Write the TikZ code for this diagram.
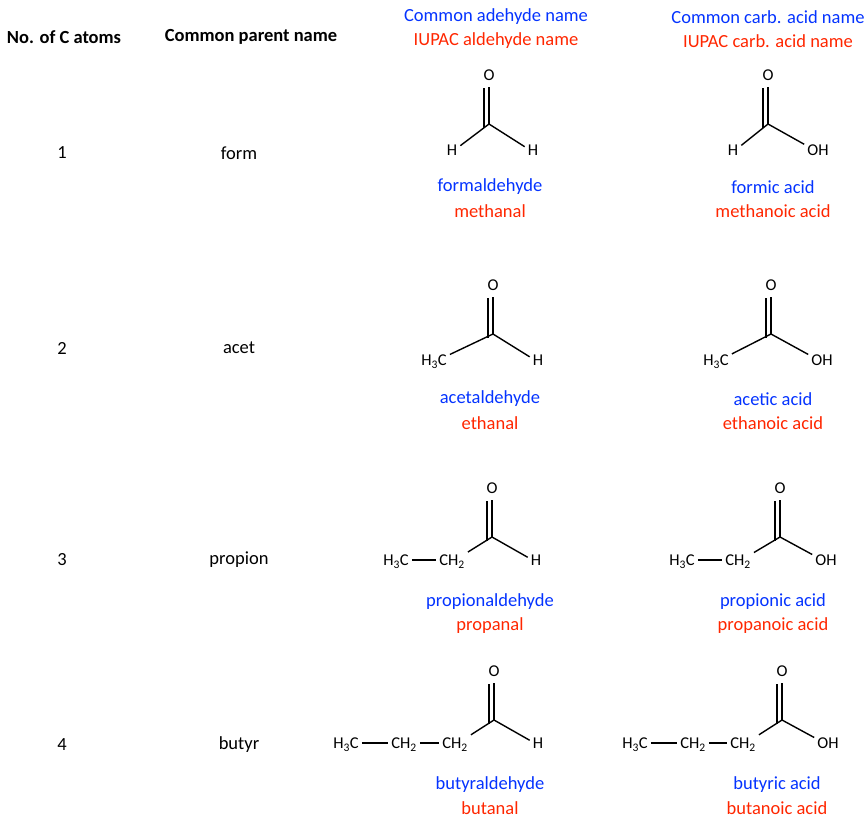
\documentclass[tikz,border=0pt]{standalone}
\usepackage{fontspec}
\setmainfont{Carlito}
\begin{document}
\begin{tikzpicture}[x=1pt,y=-1pt,
  hd/.style={font=\fontsize{18.5}{20}\selectfont\bfseries},
  txt/.style={font=\fontsize{18.5}{20}\selectfont},
  bl/.style={font=\fontsize{18.5}{20}\selectfont,text=cblue},
  rd/.style={font=\fontsize{18.5}{20}\selectfont,text=cred},
  atm/.style={font=\fontsize{16.5}{18}\selectfont,inner sep=3pt,text height=12pt,text depth=5pt},
  bd/.style={line width=1.4pt},
]
\definecolor{cblue}{RGB}{4,51,255}
\definecolor{cred}{RGB}{255,38,0}
\path[use as bounding box] (0,0) rectangle (868,824);
% headers
\node[hd] (h1) at (64,37) {No. of C atoms};
\node[hd] (h2) at (251,37) {Common parent name};
\node[bl] (h3a) at (496,17) {Common adehyde name};
\node[rd] (h3b) at (496,41) {IUPAC aldehyde name};
\node[bl] (h4a) at (768,17) {Common carb. acid name};
\node[rd] (h4b) at (768,41) {IUPAC carb. acid name};
% left columns
\foreach \n/\p/\y in {1/form/153,2/acet/348,3/propion/560,4/butyr/745}{
  \node[txt] (n\n) at (62,\y) {\n};
  \node[txt] (p\n) at (239,\y) {\p};
}
% names
\node[bl] (a1a) at (490,187) {formaldehyde};
\node[rd] (a1b) at (490,211) {methanal};
\node[bl] (c1a) at (773,187) {formic acid};
\node[rd] (c1b) at (773,211) {methanoic acid};
\node[bl] (a2a) at (490,399) {acetaldehyde};
\node[rd] (a2b) at (490,423) {ethanal};
\node[bl] (c2a) at (773,399) {acetic acid};
\node[rd] (c2b) at (773,423) {ethanoic acid};
\node[bl] (a3a) at (490,602) {propionaldehyde};
\node[rd] (a3b) at (490,626) {propanal};
\node[bl] (c3a) at (773,602) {propionic acid};
\node[rd] (c3b) at (773,626) {propanoic acid};
\node[bl] (a4a) at (490,785) {butyraldehyde};
\node[rd] (a4b) at (490,808) {butanal};
\node[bl] (c4a) at (777,785) {butyric acid};
\node[rd] (c4b) at (777,808) {butanoic acid};
% carbonyl macro: name, x, y(vertex)
\newcommand\carbo[3]{%
  \coordinate (#1C) at (#2,#3);
  \node[atm,inner sep=1pt] (#1O) at (#2,#3-47) {O};
  \draw[bd] (#1C) -- (#1O);
  \draw[bd] ([xshift=-5pt,yshift=-4pt]#1C) -- ([xshift=-5pt,yshift=-1pt]#1O.south);
}
% row 1
\carbo{r1a}{489}{124}
\node[atm] (r1aL) at (452,152) {H};
\node[atm] (r1aR) at (533,152) {H};
\draw[bd] (r1aC) -- (r1aL); \draw[bd] (r1aC) -- (r1aR);
\carbo{r1c}{768}{124}
\node[atm] (r1cL) at (733,152) {H};
\node[atm] (r1cR) at (818,152) {OH};
\draw[bd] (r1cC) -- (r1cL); \draw[bd] (r1cC) -- (r1cR);
% row 2
\carbo{r2a}{493}{334}
\node[atm] (r2aL) at (434,362) {H\textsubscript{3}C};
\node[atm] (r2aR) at (538,362) {H};
\draw[bd] (r2aC) -- (r2aL); \draw[bd] (r2aC) -- (r2aR);
\carbo{r2c}{771}{334}
\node[atm] (r2cL) at (716,362) {H\textsubscript{3}C};
\node[atm] (r2cR) at (822,362) {OH};
\draw[bd] (r2cC) -- (r2cL); \draw[bd] (r2cC) -- (r2cR);
% row 3
\carbo{r3a}{492}{537}
\node[atm] (r3aM) at (396,562) {H\textsubscript{3}C};
\node[atm] (r3aL) at (452,562) {CH\textsubscript{2}};
\node[atm] (r3aR) at (536,562) {H};
\draw[bd] ([yshift=2pt]r3aM.east) -- ([yshift=2pt]r3aL.west);
\draw[bd] (r3aC) -- (r3aL); \draw[bd] (r3aC) -- (r3aR);
\carbo{r3c}{780}{537}
\node[atm] (r3cM) at (682,562) {H\textsubscript{3}C};
\node[atm] (r3cL) at (738,562) {CH\textsubscript{2}};
\node[atm] (r3cR) at (826,562) {OH};
\draw[bd] ([yshift=2pt]r3cM.east) -- ([yshift=2pt]r3cL.west);
\draw[bd] (r3cC) -- (r3cL); \draw[bd] (r3cC) -- (r3cR);
% row 4
\carbo{r4a}{494}{720}
\node[atm] (r4aN) at (346,745) {H\textsubscript{3}C};
\node[atm] (r4aM) at (404,745) {CH\textsubscript{2}};
\node[atm] (r4aL) at (455,745) {CH\textsubscript{2}};
\node[atm] (r4aR) at (538,745) {H};
\draw[bd] ([yshift=2pt]r4aN.east) -- ([yshift=2pt]r4aM.west);
\draw[bd] ([yshift=2pt]r4aM.east) -- ([yshift=2pt]r4aL.west);
\draw[bd] (r4aC) -- (r4aL); \draw[bd] (r4aC) -- (r4aR);
\carbo{r4c}{782}{720}
\node[atm] (r4cN) at (635,745) {H\textsubscript{3}C};
\node[atm] (r4cM) at (693,745) {CH\textsubscript{2}};
\node[atm] (r4cL) at (743,745) {CH\textsubscript{2}};
\node[atm] (r4cR) at (828,745) {OH};
\draw[bd] ([yshift=2pt]r4cN.east) -- ([yshift=2pt]r4cM.west);
\draw[bd] ([yshift=2pt]r4cM.east) -- ([yshift=2pt]r4cL.west);
\draw[bd] (r4cC) -- (r4cL); \draw[bd] (r4cC) -- (r4cR);
\end{tikzpicture}
\end{document}
